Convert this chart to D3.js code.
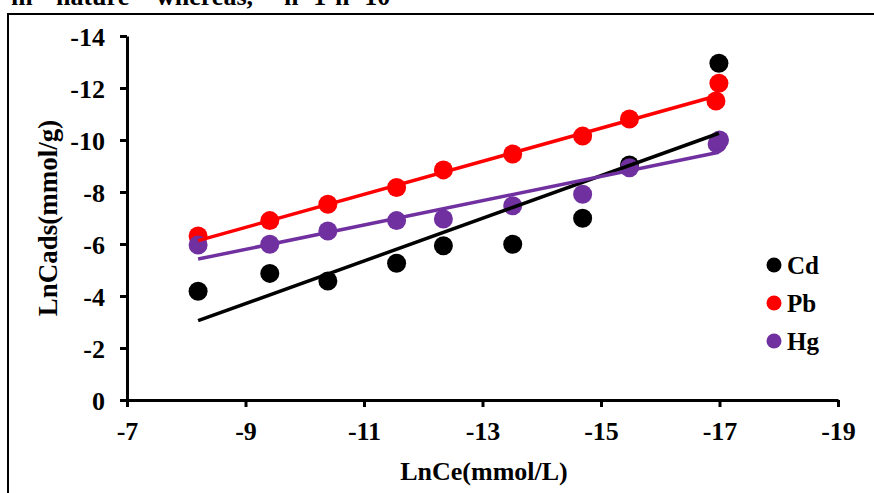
<!DOCTYPE html>
<html>
<head>
    <meta charset="utf-8">
    <title>LnCads vs LnCe</title>
    <script src="https://d3js.org/d3.v7.min.js"></script>
    <style>
        body { margin:0; background:#fff; }
        svg text { font-family:"Liberation Serif","Times New Roman",serif; font-weight:bold; fill:#000; }
        .axis path, .axis line { stroke:#000; stroke-width:3; }
        .axis text { font-size:26px; }
    </style>
</head>
<body>
    <svg id="chart" width="874" height="493"></svg>
    <script>
        // values
        var xTicks = [-7, -9, -11, -13, -15, -17, -19];
        var yTicks = [0, -2, -4, -6, -8, -10, -12, -14];

        var cdX = [-8.2, -9.41, -10.39, -11.55, -12.34, -13.51, -14.69, -15.48, -16.99];
        var cdY = [-4.18, -4.87, -4.58, -5.26, -5.93, -5.99, -6.99, -9.04, -12.95];
        var pbX = [-8.2, -9.41, -10.39, -11.55, -12.34, -13.51, -14.69, -15.48, -16.94, -16.99];
        var pbY = [-6.31, -6.90, -7.53, -8.17, -8.85, -9.46, -10.15, -10.81, -11.5, -12.18];
        var hgX = [-8.2, -9.41, -10.39, -11.55, -12.34, -13.51, -14.69, -15.48, -16.96, -17.0];
        var hgY = [-5.96, -5.99, -6.5, -6.90, -6.96, -7.47, -7.91, -8.93, -9.85, -10.0];

        // linear trendline end points
        var cdTrend = [[-8.2, -3.05], [-16.99, -10.26]];
        var pbTrend = [[-8.2, -6.13], [-16.99, -11.72]];
        var hgTrend = [[-8.2, -5.42], [-16.99, -9.53]];

        var series = [
            {name:"Cd", color:"#000000", xs:cdX, ys:cdY, trend:cdTrend},
            {name:"Pb", color:"#FF0000", xs:pbX, ys:pbY, trend:pbTrend},
            {name:"Hg", color:"#7030A0", xs:hgX, ys:hgY, trend:hgTrend}
        ];

        var svg = d3.select("#chart");

        // line of body text above the figure, cut by the top edge
        var topWords = [["m", 11], ["nature", 56], ["whereas,", 156], ["n=1-n=10", 284]];
        topWords.forEach(function(w){
            svg.append("text").attr("x", w[1]).attr("y", 5)
                .style("font-size", "26px").text(w[0]);
        });

        // frame
        svg.append("rect")
            .attr("x", 8).attr("y", 14).attr("width", 900).attr("height", 520)
            .attr("fill", "none").attr("stroke", "#000").attr("stroke-width", 2);

        var x = d3.scaleLinear().domain([-7, -19]).range([127, 838]);
        var y = d3.scaleLinear().domain([0, -14]).range([400, 36]);

        var yAxis = svg.append("g").attr("class", "axis")
            .attr("transform", "translate(127,0)")
            .call(d3.axisLeft(y).tickValues(yTicks).tickSize(7).tickSizeOuter(0)
                .tickFormat(function(d){ return String(d); }));
        yAxis.selectAll("text").attr("x", -22).attr("dy", "0.35em");

        var xAxis = svg.append("g").attr("class", "axis")
            .attr("transform", "translate(0,400)")
            .call(d3.axisBottom(x).tickValues(xTicks).tickSize(7).tickSizeOuter(0)
                .tickFormat(function(d){ return String(d); }));
        xAxis.selectAll("text").attr("y", 40).attr("dy", "0");

        // axis titles
        svg.append("text")
            .attr("x", 484).attr("y", 480)
            .attr("text-anchor", "middle")
            .style("font-size", "26px")
            .text("LnCe(mmol/L)");

        svg.append("text")
            .attr("transform", "translate(57,218) rotate(-90)")
            .attr("text-anchor", "middle")
            .style("font-size", "27px")
            .text("LnCads(mmol/g)");

        // points
        series.forEach(function(s){
            svg.append("g").selectAll("circle")
                .data(d3.range(s.xs.length))
                .enter().append("circle")
                .attr("cx", function(i){ return x(s.xs[i]); })
                .attr("cy", function(i){ return y(s.ys[i]); })
                .attr("r", 9.5)
                .attr("fill", s.color);
        });

        // trendlines
        var line = d3.line().x(function(d){ return x(d[0]); }).y(function(d){ return y(d[1]); });
        series.forEach(function(s){
            svg.append("path")
                .attr("d", line(s.trend))
                .attr("fill", "none")
                .attr("stroke", s.color)
                .attr("stroke-width", 3.5);
        });

        // legend
        var legend = svg.append("g").attr("transform", "translate(774,265)");
        series.forEach(function(s, i){
            legend.append("circle").attr("cx", 0).attr("cy", i * 38).attr("r", 7.5).attr("fill", s.color);
            legend.append("text").attr("x", 13).attr("y", i * 38 + 8.5)
                .style("font-size", "25px").text(s.name);
        });
    </script>
</body>
</html>
